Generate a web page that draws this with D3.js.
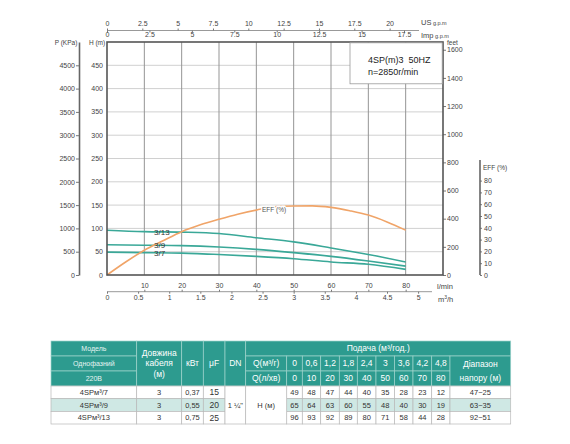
<!DOCTYPE html>
<html>
<head>
<meta charset="utf-8">
<script src="https://cdn.jsdelivr.net/npm/d3@7"></script>
<style>
  body { margin: 0; background: #fff; }
  text { font-family: "Liberation Sans", Arial, sans-serif; }
</style>
</head>
<body>
<svg class="svg"></svg>
<script>
// flow points (l/min) and head per model (m), as in the table
const flow = [0, 10, 20, 30, 40, 50, 60, 70, 80];
const head7 = [49, 48, 47, 44, 40, 35, 28, 23, 12];
const head9 = [65, 64, 63, 60, 55, 48, 40, 30, 19];
const head13 = [96, 93, 92, 89, 80, 71, 58, 44, 28];
const curveNames = ["3/7", "3/9", "3/13"];

// efficiency curve (l/min, %)
const effFlow = [0, 5, 10, 15, 20, 25, 30, 35, 40, 45, 50, 55, 60, 65, 70, 75, 80];
const effValues = [0, 11, 21, 29, 36.7, 42.5, 47.2, 51.5, 55, 57.9, 58.5, 58.6, 57.3, 54.5, 50.8, 45, 38];

// tick labels
const headTicks = [0, 50, 100, 150, 200, 250, 300, 350, 400, 450];
const pTicks = [0, 500, 1000, 1500, 2000, 2500, 3000, 3500, 4000, 4500];
const feetTicks = [0, 200, 400, 600, 800, 1000, 1200, 1400, 1600];
const effTicks = [0, 10, 20, 30, 40, 50, 60, 70, 80];
const usTicks = [0, 2.5, 5, 7.5, 10, 12.5, 15, 17.5, 20];
const impTicks = [0, 2.5, 5, 7.5, 10, 12.5, 15, 17.5];
const lminTicks = [10, 20, 30, 40, 50, 60, 70, 80];
const m3hTicks = [0, 0.5, 1, 1.5, 2, 2.5, 3, 3.5, 4, 4.5, 5];

// table
const flowM3 = ["0", "0,6", "1,2", "1,8", "2,4", "3", "3,6", "4,2", "4,8"];
const models = ["4SPм³/7", "4SPм³/9", "4SPм³/13"];
const cable = ["3", "3", "3"];
const kw = ["0,37", "0,55", "0,75"];
const uf = ["15", "20", "25"];
const headRange = ["47~25", "63~35", "92~51"];

const svg = d3.select(".svg").attr("width", 570).attr("height", 444);

const plotL = 107, plotR = 443, plotT = 42, plotB = 275;

const x = d3.scaleLinear().domain([0, 90]).range([plotL, plotR]);
const yH = d3.scaleLinear().domain([0, 500]).range([plotB, plotT]);
const yP = d3.scaleLinear().domain([0, 5000]).range([plotB, plotT]);
const yF = d3.scaleLinear().domain([0, 1655]).range([plotB, plotT]);
const yE = d3.scaleLinear().domain([0, 100]).range([plotB, plotB - 118]);
const xUS = d3.scaleLinear().domain([0, 90 / 3.785]).range([plotL, plotR]);
const xImp = d3.scaleLinear().domain([0, 90 / 4.546]).range([plotL, plotR]);
const xM3 = d3.scaleLinear().domain([0, 90 * 0.06]).range([plotL, plotR]);

const fmt = d => (d % 1 ? d.toFixed(1) : String(d));

// grid
svg.append("g").selectAll("line")
    .data(headTicks.filter(d => d > 0))
    .join("line")
    .attr("x1", plotL).attr("x2", plotR)
    .attr("y1", d => yH(d)).attr("y2", d => yH(d))
    .attr("stroke", "#d0d0d0");

svg.append("g").selectAll("line")
    .data(flow.filter(d => d > 0))
    .join("line")
    .attr("x1", d => x(d)).attr("x2", d => x(d))
    .attr("y1", plotT).attr("y2", plotB)
    .attr("stroke", "#959595");

// H labels inside left edge
svg.append("g").selectAll("text")
    .data(headTicks)
    .join("text")
    .attr("x", plotL - 4)
    .attr("y", d => yH(d) + 2.5)
    .attr("text-anchor", "end")
    .attr("font-size", 7)
    .attr("fill", "#444")
    .text(d => d);

svg.append("text").attr("x", 97).attr("y", plotT + 3)
    .attr("text-anchor", "middle").attr("font-size", 6.5).attr("fill", "#444").text("H (m)");

// P (KPa) axis
const pAxis = svg.append("g")
    .attr("transform", `translate(79,0)`)
    .call(d3.axisLeft(yP).tickValues(pTicks).tickSize(3).tickSizeOuter(0).tickPadding(1).tickFormat(fmt));
pAxis.select(".domain").attr("stroke", "#666").attr("stroke-width", 1.6);
svg.append("text").attr("x", 66).attr("y", plotT + 3)
    .attr("text-anchor", "middle").attr("font-size", 6.5).attr("fill", "#444").text("P (KPa)");

// feet axis
const fAxis = svg.append("g")
    .attr("transform", `translate(${plotR},0)`)
    .call(d3.axisRight(yF).tickValues(feetTicks).tickSize(3).tickPadding(1).tickFormat(fmt));
fAxis.select(".domain").remove();
svg.append("text").attr("x", 447).attr("y", 45)
    .attr("font-size", 6.5).attr("fill", "#444").text("feet");

// EFF axis
const eAxis = svg.append("g")
    .attr("transform", `translate(480,0)`)
    .call(d3.axisRight(yE).tickValues(effTicks).tickSize(2).tickPadding(2).tickFormat(fmt));
eAxis.select(".domain").remove();
svg.append("line").attr("x1", 480).attr("x2", 480).attr("y1", 160).attr("y2", plotB)
    .attr("stroke", "#666").attr("stroke-width", 1.6);
svg.append("text").attr("x", 483).attr("y", 170)
    .attr("font-size", 6.5).attr("fill", "#444").text("EFF (%)");

// top axes: US / Imp g.p.m
const topY = 30.5;
svg.append("line").attr("x1", plotL).attr("x2", 419).attr("y1", topY).attr("y2", topY)
    .attr("stroke", "#999");
const usAxis = svg.append("g").attr("transform", `translate(0,${topY})`)
    .call(d3.axisTop(xUS).tickValues(usTicks).tickSize(2).tickPadding(3).tickFormat(fmt));
const impAxis = svg.append("g").attr("transform", `translate(0,${topY})`)
    .call(d3.axisBottom(xImp).tickValues(impTicks).tickSize(2).tickPadding(0).tickFormat(fmt));

// bottom axes: l/min and m3/h
const botY = 291.7;
svg.append("line").attr("x1", plotL).attr("x2", 432).attr("y1", botY).attr("y2", botY)
    .attr("stroke", "#999");
const lAxis = svg.append("g").attr("transform", `translate(0,${botY})`)
    .call(d3.axisTop(x).tickValues(lminTicks).tickSize(2).tickPadding(2).tickFormat(fmt));
const mAxis = svg.append("g").attr("transform", `translate(0,${botY})`)
    .call(d3.axisBottom(xM3).tickValues(m3hTicks).tickSize(2).tickPadding(1).tickFormat(fmt));

[usAxis, impAxis, lAxis, mAxis].forEach(a => a.select(".domain").remove());
[pAxis, fAxis, eAxis, usAxis, impAxis, lAxis, mAxis].forEach(a => {
    a.selectAll("text").attr("font-size", 7).attr("fill", "#444")
        .style("font-family", '"Liberation Sans", Arial, sans-serif');
    a.selectAll(".tick line").attr("stroke", "#777");
});

function unitLabel(xp, yp, big, small) {
    const t = svg.append("text").attr("x", xp).attr("y", yp).attr("fill", "#444");
    t.append("tspan").attr("font-size", 7.5).text(big);
    if (small) t.append("tspan").attr("font-size", 5.5).text(" " + small);
}
unitLabel(421, 24.5, "US", "g.p.m");
unitLabel(421, 37.5, "Imp", "g.p.m");
unitLabel(437, 288.5, "l/min");
const m3 = svg.append("text").attr("x", 438).attr("y", 302).attr("fill", "#444").attr("font-size", 7.5);
m3.append("tspan").text("m");
m3.append("tspan").attr("font-size", 5).attr("dy", -3).text("3");
m3.append("tspan").attr("dy", 3).text("/h");

// head curves
const headLine = d3.line()
    .x(d => x(d[0]))
    .y(d => yH(d[1]))
    .curve(d3.curveMonotoneX);

const heads = [head7, head9, head13];
svg.append("g").selectAll("path")
    .data(heads)
    .join("path")
    .attr("d", h => headLine(flow.map((f, i) => [f, h[i]])))
    .attr("fill", "none")
    .attr("stroke", "#3aa898")
    .attr("stroke-width", 1.6);

// efficiency curve
const effLine = d3.line()
    .x((d, i) => x(effFlow[i]))
    .y(d => yE(d))
    .curve(d3.curveMonotoneX);

svg.append("path")
    .datum(effValues)
    .attr("d", effLine)
    .attr("fill", "none")
    .attr("stroke", "#f0a468")
    .attr("stroke-width", 1.6);

// curve labels
const labelFlow = 12.6;
svg.append("g").selectAll("text")
    .data(heads)
    .join("text")
    .attr("x", x(labelFlow))
    .attr("y", h => yH(d3.interpolateNumber(h[1], h[2])((labelFlow - 10) / 10)) + 2.8)
    .attr("font-size", 8)
    .attr("fill", "#333")
    .text((h, i) => curveNames[i]);

svg.append("text")
    .attr("x", x(41.5))
    .attr("y", yE(55.5) + 2.3)
    .attr("font-size", 6.5)
    .attr("fill", "#555")
    .attr("stroke", "#fff").attr("stroke-width", 2.5).attr("paint-order", "stroke")
    .text("EFF (%)");

// plot border
svg.append("rect")
    .attr("x", plotL).attr("y", plotT)
    .attr("width", plotR - plotL).attr("height", plotB - plotT)
    .attr("fill", "none").attr("stroke", "#555").attr("stroke-width", 1.6);

// info box
svg.append("rect")
    .attr("x", 350).attr("y", plotT + 0.8)
    .attr("width", plotR - 350 - 0.8).attr("height", 41)
    .attr("fill", "#fff").attr("stroke", "#999").attr("stroke-width", 0.8);
svg.append("text").attr("x", 368).attr("y", 63.3).attr("font-size", 9).attr("fill", "#222")
    .attr("xml:space", "preserve").text("4SP(m)3  50HZ");
svg.append("text").attr("x", 368).attr("y", 74.5).attr("font-size", 9).attr("fill", "#222")
    .text("n=2850r/min");

// ---- table ----
const colX = [51, 136.7, 181.7, 203.3, 225, 245.7, 286.7, 302.3, 320.7, 339.3, 357.3, 376, 394.5, 413, 431.7, 450, 510.7];
const rowY = [341, 356, 371, 386, 398.7, 411.4, 424];
const teal = "#2d9b8f";
const table = svg.append("g");

function cell(c0, c1, r0, r1, lines, opts) {
    const o = Object.assign({ fill: "#fff", color: "#333", stroke: "#b8b8b8", size: 7.5, lh: 10.5 }, opts);
    const x0 = colX[c0], x1 = colX[c1], y0 = rowY[r0], y1 = rowY[r1];
    table.append("rect")
        .attr("x", x0).attr("y", y0).attr("width", x1 - x0).attr("height", y1 - y0)
        .attr("fill", o.fill).attr("stroke", o.stroke).attr("stroke-width", 0.7);
    const cy = (y0 + y1) / 2 - (lines.length - 1) * o.lh / 2;
    table.selectAll(null)
        .data(lines)
        .enter()
        .append("text")
        .attr("x", (x0 + x1) / 2)
        .attr("y", (d, i) => cy + i * o.lh)
        .attr("dy", "0.35em")
        .attr("text-anchor", "middle")
        .attr("font-size", o.size)
        .attr("fill", o.color)
        .text(d => d);
}

const hdr = { fill: teal, color: "#fff", stroke: "#9fd3cc", size: 8.5 };
cell(0, 1, 0, 1, ["Модель"], Object.assign({}, hdr, { size: 7, color: "#e6f4f2" }));
cell(0, 1, 1, 2, ["Однофазний"], Object.assign({}, hdr, { size: 7, color: "#e6f4f2" }));
cell(0, 1, 2, 3, ["220В"], Object.assign({}, hdr, { size: 7, color: "#e6f4f2" }));
cell(1, 2, 0, 3, ["Довжина", "кабеля", "(м)"], hdr);
cell(2, 3, 0, 3, ["кВт"], hdr);
cell(3, 4, 0, 3, ["μF"], hdr);
cell(4, 5, 0, 3, ["DN"], hdr);
cell(5, 16, 0, 1, ["Подача (м³/год.)"], hdr);
cell(5, 6, 1, 2, ["Q(м³/г)"], hdr);
cell(5, 6, 2, 3, ["Q(л/хв)"], hdr);
flowM3.forEach((q, i) => {
    cell(6 + i, 7 + i, 1, 2, [q], hdr);
    cell(6 + i, 7 + i, 2, 3, [String(flow[i])], hdr);
});
cell(15, 16, 1, 3, ["Діапазон", "напору (м)"], Object.assign({}, hdr, { lh: 14 }));

models.forEach((m, r) => {
    const f = r === 1 ? "#cfe8e4" : "#fff";
    const o = { fill: f };
    cell(0, 1, 3 + r, 4 + r, [m], o);
    cell(1, 2, 3 + r, 4 + r, [cable[r]], o);
    cell(2, 3, 3 + r, 4 + r, [kw[r]], o);
    cell(3, 4, 3 + r, 4 + r, [uf[r]], Object.assign({}, o, { size: 8.5 }));
    heads[r].forEach((h, i) => cell(6 + i, 7 + i, 3 + r, 4 + r, [String(h)], o));
    cell(15, 16, 3 + r, 4 + r, [headRange[r]], o);
});
cell(4, 5, 3, 6, ["1 ¼\""], {});
cell(5, 6, 3, 6, ["H (м)"], {});
</script>
</body>
</html>
